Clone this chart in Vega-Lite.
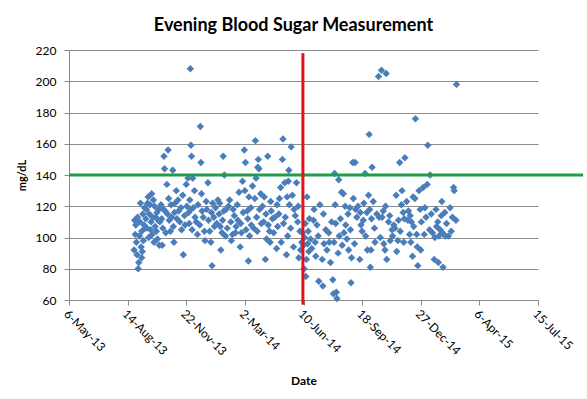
{
"$schema": "https://vega.github.io/schema/vega-lite/v6.json",
"width": 469, "height": 250,
"autosize": {"type": "none"},
"padding": {"left": 69, "top": 50, "right": 49, "bottom": 99},
"background": "white",
"title": {"text": "Evening Blood Sugar Measurement", "font": "Lato", "fontSize": 18, "fontWeight": "bold", "color": "#000", "offset": 9, "dx": -10},
"config": {"view": {"stroke": null}, "axis": {"labelFont": "Lato", "titleFont": "Lato", "labelColor": "#000", "titleColor": "#000", "domainColor": "#888", "tickColor": "#888", "gridColor": "#8c8c8c"}},
"datasets": {
"pts": [
{"date":"2013-09-24","mg":128},{"date":"2013-09-18","mg":126},{"date":"2013-09-27","mg":124},{"date":"2013-09-05","mg":122},{"date":"2013-09-21","mg":121},{"date":"2013-09-15","mg":118},{"date":"2013-09-29","mg":120},{"date":"2013-09-09","mg":115},{"date":"2013-09-20","mg":115},{"date":"2013-10-03","mg":116},{"date":"2013-09-26","mg":113},{"date":"2013-08-26","mg":111},{"date":"2013-09-04","mg":110},{"date":"2013-09-14","mg":112},{"date":"2013-09-23","mg":110},{"date":"2013-10-05","mg":111},{"date":"2013-09-11","mg":108},{"date":"2013-09-30","mg":107},{"date":"2013-09-22","mg":105},{"date":"2013-09-07","mg":104},{"date":"2013-10-02","mg":104},{"date":"2013-08-27","mg":102},{"date":"2013-09-03","mg":101},{"date":"2013-09-10","mg":98},{"date":"2013-08-29","mg":97},{"date":"2013-09-28","mg":97},{"date":"2013-10-07","mg":95},{"date":"2013-09-06","mg":94},{"date":"2013-08-25","mg":92},{"date":"2013-09-08","mg":91},{"date":"2013-08-30","mg":89},{"date":"2013-09-07","mg":87},{"date":"2013-09-02","mg":84},{"date":"2013-09-01","mg":80},{"date":"2013-09-13","mg":106},{"date":"2013-09-25","mg":102},
{"date":"2013-08-28","mg":108},{"date":"2013-08-31","mg":113},{"date":"2013-09-12","mg":119},{"date":"2013-09-16","mg":106},{"date":"2013-09-19","mg":100},{"date":"2013-10-01","mg":113},{"date":"2013-10-04","mg":99},{"date":"2013-10-06","mg":118},{"date":"2013-10-08","mg":110},{"date":"2013-09-17","mg":122},
{"date":"2013-11-29","mg":208},{"date":"2013-12-16","mg":171},{"date":"2013-10-22","mg":156},{"date":"2013-11-30","mg":159},{"date":"2013-10-15","mg":152},{"date":"2013-12-01","mg":152},{"date":"2013-12-17","mg":148},{"date":"2013-10-16","mg":144},{"date":"2013-10-30","mg":143},{"date":"2013-11-25","mg":138},{"date":"2013-12-03","mg":138},{"date":"2013-10-20","mg":134},{"date":"2013-12-29","mg":135},{"date":"2013-11-22","mg":134},{"date":"2013-11-05","mg":130},{"date":"2013-12-18","mg":128},{"date":"2013-12-06","mg":130},{"date":"2013-11-16","mg":127},{"date":"2013-10-23","mg":125},{"date":"2013-11-08","mg":124},{"date":"2013-11-28","mg":124},{"date":"2013-12-26","mg":123},{"date":"2013-10-10","mg":121},{"date":"2013-10-27","mg":121},{"date":"2013-12-12","mg":121},{"date":"2014-01-06","mg":122},{"date":"2013-11-13","mg":119},{"date":"2013-11-30","mg":118},{"date":"2013-10-17","mg":117},{"date":"2013-11-02","mg":116},{"date":"2013-12-19","mg":117},{"date":"2014-01-04","mg":116},{"date":"2013-11-19","mg":114},{"date":"2013-12-07","mg":113},{"date":"2013-10-24","mg":111},{"date":"2013-11-11","mg":110},{"date":"2013-12-30","mg":111},{"date":"2013-11-27","mg":109},{"date":"2013-12-15","mg":108},{"date":"2013-10-31","mg":107},{"date":"2014-01-09","mg":107},{"date":"2013-10-13","mg":106},{"date":"2013-11-14","mg":105},{"date":"2013-12-23","mg":104},{"date":"2014-01-01","mg":104},{"date":"2013-12-24","mg":98},{"date":"2014-01-03","mg":97},{"date":"2013-10-12","mg":95},{"date":"2013-11-01","mg":97},{"date":"2013-11-17","mg":89},{"date":"2014-01-05","mg":82},{"date":"2013-12-02","mg":105},{"date":"2013-11-23","mg":120},
{"date":"2013-10-11","mg":112},{"date":"2013-10-14","mg":118},{"date":"2013-10-18","mg":103},{"date":"2013-10-21","mg":115},{"date":"2013-10-26","mg":104},{"date":"2013-10-28","mg":113},{"date":"2013-11-03","mg":122},{"date":"2013-11-06","mg":112},{"date":"2013-11-09","mg":117},{"date":"2013-11-20","mg":108},{"date":"2013-11-26","mg":116},{"date":"2013-12-04","mg":119},{"date":"2013-12-09","mg":110},{"date":"2013-12-11","mg":102},{"date":"2013-12-21","mg":113},{"date":"2013-12-27","mg":118},{"date":"2014-01-08","mg":113},{"date":"2014-01-11","mg":119},{"date":"2014-01-13","mg":109},{"date":"2014-01-15","mg":124},
{"date":"2014-03-20","mg":162},{"date":"2014-03-01","mg":156},{"date":"2014-01-24","mg":152},{"date":"2014-04-10","mg":152},{"date":"2014-03-03","mg":148},{"date":"2014-03-25","mg":150},{"date":"2014-03-24","mg":145},{"date":"2014-03-26","mg":144},{"date":"2014-01-26","mg":140},{"date":"2014-02-26","mg":136},{"date":"2014-03-21","mg":138},{"date":"2014-02-20","mg":129},{"date":"2014-03-02","mg":130},{"date":"2014-03-15","mg":133},{"date":"2014-03-29","mg":128},{"date":"2014-03-09","mg":126},{"date":"2014-03-19","mg":125},{"date":"2014-02-04","mg":124},{"date":"2014-01-18","mg":122},{"date":"2014-02-17","mg":121},{"date":"2014-04-15","mg":123},{"date":"2014-04-01","mg":120},{"date":"2014-03-12","mg":119},{"date":"2014-01-29","mg":118},{"date":"2014-02-27","mg":116},{"date":"2014-01-17","mg":115},{"date":"2014-02-12","mg":114},{"date":"2014-04-07","mg":115},{"date":"2014-03-22","mg":113},{"date":"2014-03-07","mg":112},{"date":"2014-04-18","mg":112},{"date":"2014-01-23","mg":111},{"date":"2014-02-06","mg":110},{"date":"2014-02-23","mg":109},{"date":"2014-03-30","mg":109},{"date":"2014-03-13","mg":108},{"date":"2014-04-11","mg":108},{"date":"2014-01-31","mg":106},{"date":"2014-02-15","mg":107},{"date":"2014-03-04","mg":105},{"date":"2014-03-23","mg":104},{"date":"2014-04-13","mg":104},{"date":"2014-01-22","mg":103},{"date":"2014-02-09","mg":102},{"date":"2014-02-24","mg":103},{"date":"2014-03-10","mg":101},{"date":"2014-02-07","mg":98},{"date":"2014-04-08","mg":99},{"date":"2014-04-14","mg":97},{"date":"2014-02-22","mg":94},{"date":"2014-01-20","mg":92},{"date":"2014-03-08","mg":85},{"date":"2014-04-06","mg":86},{"date":"2014-01-28","mg":101},
{"date":"2014-01-19","mg":107},{"date":"2014-01-25","mg":117},{"date":"2014-02-02","mg":120},{"date":"2014-02-10","mg":118},{"date":"2014-02-14","mg":103},{"date":"2014-02-18","mg":111},{"date":"2014-03-06","mg":117},{"date":"2014-03-17","mg":106},{"date":"2014-03-27","mg":118},{"date":"2014-04-03","mg":110},{"date":"2014-04-04","mg":126},{"date":"2014-04-16","mg":117},{"date":"2014-04-20","mg":103},{"date":"2014-04-22","mg":113},
{"date":"2014-05-06","mg":163},{"date":"2014-05-20","mg":158},{"date":"2014-05-05","mg":150},{"date":"2014-05-16","mg":143},{"date":"2014-05-09","mg":135},{"date":"2014-05-15","mg":136},{"date":"2014-05-29","mg":135},{"date":"2014-05-02","mg":132},{"date":"2014-05-13","mg":126},{"date":"2014-06-16","mg":126},{"date":"2014-04-26","mg":121},{"date":"2014-05-17","mg":121},{"date":"2014-05-25","mg":118},{"date":"2014-06-28","mg":118},{"date":"2014-04-29","mg":115},{"date":"2014-05-10","mg":113},{"date":"2014-05-27","mg":114},{"date":"2014-07-14","mg":115},{"date":"2014-06-27","mg":111},{"date":"2014-07-03","mg":108},{"date":"2014-04-27","mg":107},{"date":"2014-07-18","mg":105},{"date":"2014-07-23","mg":103},{"date":"2014-06-08","mg":103},{"date":"2014-05-14","mg":101},{"date":"2014-05-03","mg":97},{"date":"2014-06-22","mg":99},{"date":"2014-06-17","mg":96},{"date":"2014-06-30","mg":97},{"date":"2014-07-15","mg":96},{"date":"2014-07-24","mg":97},{"date":"2014-04-25","mg":93},{"date":"2014-05-24","mg":94},{"date":"2014-06-05","mg":92},{"date":"2014-06-19","mg":91},{"date":"2014-05-12","mg":89},{"date":"2014-06-02","mg":87},{"date":"2014-06-15","mg":86},{"date":"2014-07-01","mg":88},{"date":"2014-07-12","mg":86},{"date":"2014-07-26","mg":84},{"date":"2014-06-11","mg":80},{"date":"2014-06-14","mg":75},{"date":"2014-07-06","mg":72},{"date":"2014-07-13","mg":69},{"date":"2014-07-31","mg":64},{"date":"2014-06-07","mg":97},{"date":"2014-06-04","mg":104},{"date":"2014-06-13","mg":109},
{"date":"2014-04-30","mg":125},{"date":"2014-05-07","mg":109},{"date":"2014-05-19","mg":106},{"date":"2014-05-22","mg":127},{"date":"2014-05-31","mg":110},{"date":"2014-06-01","mg":120},{"date":"2014-06-10","mg":95},{"date":"2014-06-12","mg":100},{"date":"2014-06-18","mg":104},{"date":"2014-06-20","mg":112},{"date":"2014-06-24","mg":93},{"date":"2014-07-05","mg":101},{"date":"2014-07-08","mg":121},{"date":"2014-07-20","mg":92},{"date":"2014-07-28","mg":110},
{"date":"2014-10-16","mg":203},{"date":"2014-10-21","mg":207},{"date":"2014-10-29","mg":205},{"date":"2014-09-30","mg":166},{"date":"2014-09-02","mg":148},{"date":"2014-09-06","mg":148},{"date":"2014-10-05","mg":145},{"date":"2014-08-02","mg":141},{"date":"2014-09-23","mg":141},{"date":"2014-08-09","mg":137},{"date":"2014-08-14","mg":129},{"date":"2014-08-17","mg":128},{"date":"2014-09-03","mg":125},{"date":"2014-09-29","mg":127},{"date":"2014-11-15","mg":127},{"date":"2014-08-03","mg":121},{"date":"2014-09-21","mg":122},{"date":"2014-10-07","mg":123},{"date":"2014-08-20","mg":120},{"date":"2014-09-07","mg":118},{"date":"2014-08-25","mg":115},{"date":"2014-09-15","mg":116},{"date":"2014-09-26","mg":116},{"date":"2014-10-13","mg":115},{"date":"2014-10-22","mg":113},{"date":"2014-08-04","mg":109},{"date":"2014-09-09","mg":113},{"date":"2014-09-20","mg":111},{"date":"2014-10-04","mg":112},{"date":"2014-11-02","mg":110},{"date":"2014-08-21","mg":108},{"date":"2014-09-16","mg":108},{"date":"2014-08-29","mg":105},{"date":"2014-11-08","mg":105},{"date":"2014-08-10","mg":101},{"date":"2014-08-23","mg":99},{"date":"2014-09-24","mg":101},{"date":"2014-11-09","mg":101},{"date":"2014-08-01","mg":97},{"date":"2014-08-15","mg":95},{"date":"2014-09-05","mg":96},{"date":"2014-10-10","mg":97},{"date":"2014-10-25","mg":96},{"date":"2014-11-05","mg":98},{"date":"2014-08-26","mg":92},{"date":"2014-09-27","mg":92},{"date":"2014-10-03","mg":92},{"date":"2014-10-27","mg":92},{"date":"2014-08-08","mg":90},{"date":"2014-09-14","mg":86},{"date":"2014-10-30","mg":86},{"date":"2014-08-31","mg":87},{"date":"2014-10-02","mg":81},{"date":"2014-07-30","mg":73},{"date":"2014-08-30","mg":71},{"date":"2014-08-05","mg":65},{"date":"2014-08-06","mg":61},{"date":"2014-10-17","mg":113},{"date":"2014-10-28","mg":120},
{"date":"2014-08-12","mg":112},{"date":"2014-08-18","mg":103},{"date":"2014-08-28","mg":119},{"date":"2014-09-11","mg":120},{"date":"2014-09-18","mg":104},{"date":"2014-10-01","mg":118},{"date":"2014-10-09","mg":106},{"date":"2014-10-19","mg":100},{"date":"2014-10-24","mg":117},{"date":"2014-11-04","mg":114},{"date":"2014-11-11","mg":108},
{"date":"2015-02-26","mg":198},{"date":"2014-12-18","mg":176},{"date":"2015-01-08","mg":159},{"date":"2014-11-21","mg":148},{"date":"2014-11-30","mg":151},{"date":"2015-01-12","mg":140},{"date":"2015-02-21","mg":132},{"date":"2015-02-22","mg":130},{"date":"2015-01-07","mg":134},{"date":"2014-12-31","mg":132},{"date":"2014-12-24","mg":130},{"date":"2014-11-25","mg":130},{"date":"2014-12-14","mg":126},{"date":"2014-12-17","mg":125},{"date":"2014-12-03","mg":123},{"date":"2015-02-01","mg":123},{"date":"2015-02-15","mg":119},{"date":"2014-11-24","mg":121},{"date":"2014-12-26","mg":118},{"date":"2015-01-03","mg":119},{"date":"2014-11-27","mg":116},{"date":"2014-12-09","mg":114},{"date":"2015-02-06","mg":116},{"date":"2015-01-31","mg":114},{"date":"2014-11-19","mg":111},{"date":"2014-12-05","mg":111},{"date":"2014-12-11","mg":110},{"date":"2014-12-28","mg":110},{"date":"2015-01-25","mg":110},{"date":"2015-02-25","mg":111},{"date":"2015-01-23","mg":107},{"date":"2015-01-11","mg":105},{"date":"2015-01-29","mg":105},{"date":"2014-11-22","mg":104},{"date":"2015-01-16","mg":103},{"date":"2015-02-02","mg":103},{"date":"2014-12-08","mg":102},{"date":"2014-12-20","mg":102},{"date":"2015-01-02","mg":102},{"date":"2015-02-07","mg":101},{"date":"2015-01-20","mg":100},{"date":"2014-11-18","mg":98},{"date":"2014-11-28","mg":97},{"date":"2014-12-10","mg":97},{"date":"2014-11-16","mg":91},{"date":"2014-12-21","mg":94},{"date":"2014-12-27","mg":92},{"date":"2014-12-13","mg":88},{"date":"2014-12-22","mg":82},{"date":"2015-01-19","mg":86},{"date":"2015-01-26","mg":84},{"date":"2015-02-03","mg":81},{"date":"2015-02-12","mg":101},{"date":"2015-01-27","mg":101},
{"date":"2014-11-13","mg":106},{"date":"2014-11-29","mg":112},{"date":"2014-12-06","mg":117},{"date":"2014-12-15","mg":107},{"date":"2015-01-05","mg":113},{"date":"2015-01-14","mg":115},{"date":"2015-01-22","mg":118},{"date":"2015-02-09","mg":109},{"date":"2015-02-17","mg":104},{"date":"2015-02-19","mg":113}
],
"target": [{"date": "2013-05-06", "to": "2015-09-30", "mg": 140}],
"change": [{"date": "2014-06-09", "mg": 218, "bottom": 57}]
},
"encoding": {
"x": {"field": "date", "type": "temporal", "title": "Date",
"scale": {"type": "utc", "domain": [{"year": 2013, "month": 5, "date": 6, "utc": true}, {"year": 2015, "month": 7, "date": 15, "utc": true}]},
"axis": {"values": [{"year": 2013, "month": 5, "date": 6, "utc": true}, {"year": 2013, "month": 8, "date": 14, "utc": true}, {"year": 2013, "month": 11, "date": 22, "utc": true}, {"year": 2014, "month": 3, "date": 2, "utc": true}, {"year": 2014, "month": 6, "date": 10, "utc": true}, {"year": 2014, "month": 9, "date": 18, "utc": true}, {"year": 2014, "month": 12, "date": 27, "utc": true}, {"year": 2015, "month": 4, "date": 6, "utc": true}, {"year": 2015, "month": 7, "date": 15, "utc": true}],
"format": "%-d-%b-%y", "labelAngle": 45, "labelFontSize": 12, "labelPadding": 3, "tickSize": 5, "grid": false, "titleFontSize": 12, "titleFontWeight": "bold", "titlePadding": 18, "labelOverlap": false, "labelFlush": false}},
"y": {"field": "mg", "type": "quantitative", "title": "mg/dL",
"scale": {"domain": [60, 220], "nice": false, "zero": false},
"axis": {"values": [60, 80, 100, 120, 140, 160, 180, 200, 220], "grid": true, "labelFontSize": 12, "labelPadding": 8, "tickSize": 5, "titleFontSize": 11, "titleFontWeight": "bold", "titlePadding": 8, "labelOverlap": false}}
},
"layer": [
{
"data": {"name": "pts"},
"mark": {"type": "point", "shape": "diamond", "filled": true, "size": 55, "color": "#4a7ebb", "opacity": 1}
},
{
"data": {"name": "target"},
"mark": {"type": "rule", "color": "#1f9d48", "strokeWidth": 3, "clip": false},
"encoding": {"x2": {"field": "to"}}
},
{
"data": {"name": "change"},
"mark": {"type": "rule", "color": "#e3121b", "strokeWidth": 3, "clip": false},
"encoding": {"y2": {"field": "bottom"}}
}
]
}
